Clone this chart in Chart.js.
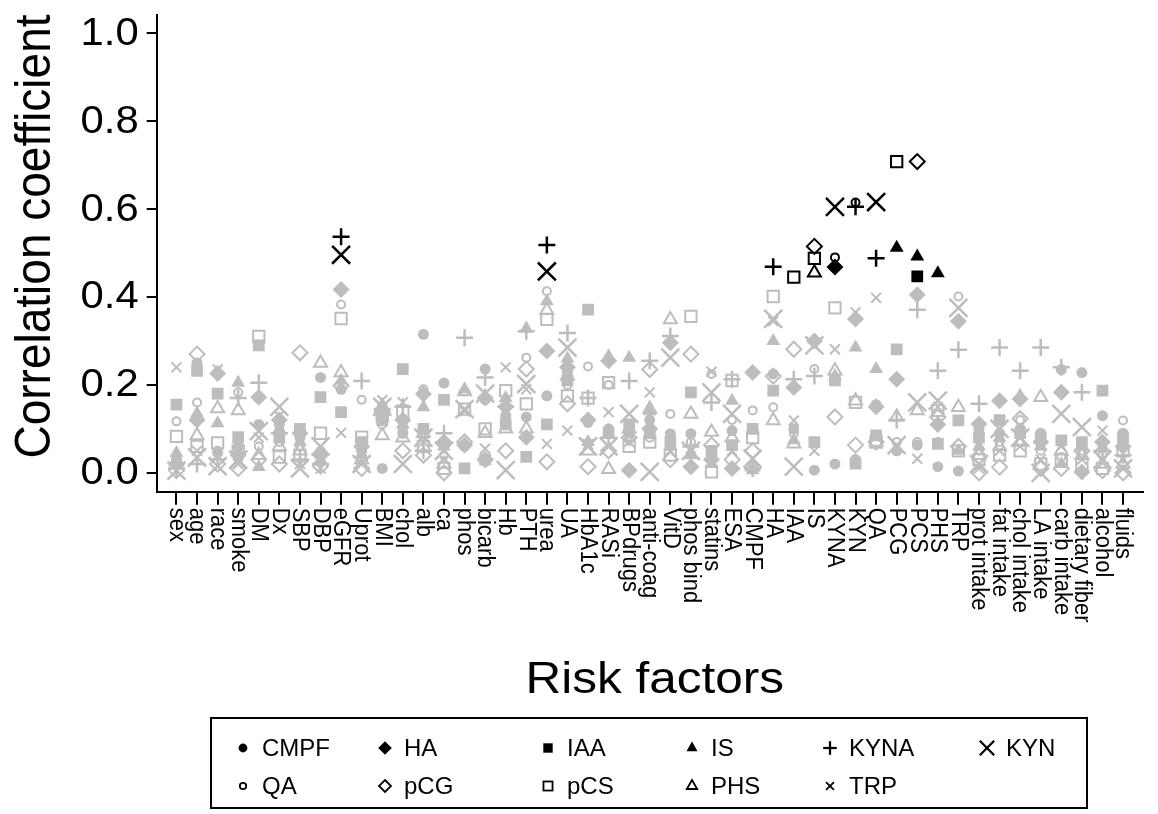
<!DOCTYPE html>
<html>
<head>
<meta charset="utf-8">
<script src="https://cdn.jsdelivr.net/npm/chart.js@4.4.1/dist/chart.umd.min.js"></script>
<style>
  html, body { margin: 0; padding: 0; background: #fff; }
  #wrap { position: relative; width: 1158px; height: 814px; overflow: hidden; }
  #chart { position: absolute; left: 0; top: 0; }
  #legend { position: absolute; left: 210px; top: 717px; width: 878px; height: 92px;
            border: 2px solid #000; box-sizing: border-box; }
  .li { position: absolute; font-family: "Liberation Sans", Arial, sans-serif; font-size: 24px;
        line-height: 24px; color: #000; white-space: nowrap; }
  .lm { position: absolute; }
</style>
</head>
<body>
<div id="wrap">
  <canvas id="chart" width="1158" height="814"></canvas>
  <div id="legend"></div>
</div>
<script>
// ---------------- DATA ----------------
const categories = ['sex','age','race','smoke','DM','Dx','SBP','DBP','eGFR','Uprot','BMI','chol','alb','ca',
  'phos','bicarb','Hb','PTH','urea','UA','HbA1c','RASi','BPdrugs','anti-coag','VitD','phos bind','statins',
  'ESA','CMPF','HA','IAA','IS','KYNA','KYN','QA','PCG','PCS','PHS','TRP','prot intake','fat intake',
  'chol intake','LA intake','carb intake','dietary fiber','alcohol','fluids'];

const yTicks = [0.0, 0.2, 0.4, 0.6, 0.8, 1.0];
const xTitle = 'Risk factors';
const yTitle = 'Correlation coefficient';
const seriesNames = ['CMPF','HA','IAA','IS','KYNA','KYN','QA','pCG','pCS','PHS','TRP'];

const CMPF = [.03,.25,.045,.06,.11,.11,.08,.217,.19,.05,.01,.09,.315,.204,.06,.236,.13,.127,.175,.23,.115,.10,.09,.12,.089,.089,.04,.096,null,.225,.10,.006,.02,.03,.155,.05,.063,.014,.004,.10,.09,.10,.09,.235,.228,.13,.09];
const HA   = [.02,.12,.226,.04,.172,.12,.09,.04,.417,.06,.135,.12,.179,.07,.063,.17,.15,.081,.277,.24,.12,.255,.006,.10,.296,.014,.03,.01,.228,null,.194,.30,.468,.35,.15,.213,.405,.11,.345,.111,.164,.168,.07,.183,.002,.07,.06];
const IAA  = [.155,.232,.18,.081,.29,.08,.10,.172,.138,.07,.12,.236,.10,.166,.01,.03,.11,.036,.11,.21,.371,.09,.11,.09,.07,.183,.05,.063,.10,.187,null,.07,.21,.021,.085,.281,.447,.066,.119,.08,.12,.09,.08,.074,.07,.187,.08];
const IS   = [.045,.135,.113,.205,.013,.10,.07,.03,.21,.04,.155,.11,.149,.06,.19,.175,.17,.328,.39,.26,.07,.265,.262,.14,.06,.04,.02,.164,.006,.30,.074,null,.22,.285,.236,.512,.492,.454,.05,.06,.08,.175,.06,.02,.06,.06,.06];
const KYNA = [.01,.02,.03,.17,.205,.09,.03,.02,.537,.209,.145,.15,.05,.09,.307,.217,.15,.322,.518,.318,.17,.08,.209,.255,.311,.06,.16,.213,.01,.469,.213,.22,null,.605,.488,.12,.371,.232,.28,.157,.285,.232,.285,.24,.183,.05,.04];
const KYN  = [.005,.035,.015,.03,.095,.15,.01,.06,.496,.02,.15,.02,.08,.05,.145,.18,.006,.202,.458,.285,.06,.06,.134,.002,.262,.05,.183,.134,.032,.35,.014,.29,.605,null,.616,.063,.16,.164,.375,.02,.10,.08,.0,.134,.104,.03,.01];
const QA   = [.117,.16,.05,.183,.06,.07,.06,.05,.383,.166,.11,.10,.19,.04,.185,.165,.12,.262,.413,.20,.242,.20,.08,.08,.134,.07,.225,.12,.142,.149,.09,.236,.49,.615,null,.07,.07,.07,.401,.05,.07,.12,.05,.036,.05,.04,.119];
const pCG  = [.005,.27,.02,.01,.03,.02,.273,.015,.198,.01,.14,.05,.04,.0,.07,.03,.05,.236,.025,.157,.014,.05,.08,.235,.03,.27,.063,.03,.05,.22,.281,.515,.127,.063,.07,null,.708,.127,.06,.0,.013,.123,.01,.01,.05,.005,.0];
const pCS  = [.083,.06,.068,.05,.31,.036,.04,.09,.351,.081,.13,.14,.06,.01,.145,.10,.187,.157,.349,.175,.17,.205,.06,.07,.04,.356,.002,.21,.08,.401,.445,.488,.375,.16,.07,.708,null,.142,.05,.03,.04,.05,.02,.03,.02,.01,.05];
const PHS  = [.025,.085,.146,.142,.04,.06,.05,.25,.228,.03,.085,.08,.09,.02,.185,.09,.10,.10,.37,.22,.05,.008,.10,.145,.349,.134,.093,.08,.014,.119,.066,.455,.232,.164,.07,.127,.142,null,.149,.04,.06,.07,.172,.05,.04,.02,.02];
const TRP  = [.24,.05,.235,.02,.08,.13,.02,.01,.091,.03,.165,.16,.07,.03,.14,.055,.24,.19,.066,.096,.065,.138,.07,.183,.05,.055,.23,.05,.01,.345,.119,.05,.281,.365,.398,.06,.032,.15,null,.01,.05,.06,.03,.06,.03,.096,.03];

// indices of significant (black) points per series
const sigCMPF = [];
const sigHA   = [32];
const sigIAA  = [36];
const sigIS   = [35, 36, 37];
const sigKYNA = [8, 18, 29, 33, 34];
const sigKYN  = [8, 18, 32, 34];
const sigQA   = [32, 33];
const sigpCG  = [31, 36];
const sigpCS  = [30, 31, 35];
const sigPHS  = [31];
const sigTRP  = [];

// ---------------- STYLE ----------------
const GRAY = '#bdbdbd';
const BLACK = '#000000';
const FONT = '"Liberation Sans", Arial, Helvetica, sans-serif';
const XSTRETCH = 1.1;

const seriesValues = [CMPF, HA, IAA, IS, KYNA, KYN, QA, pCG, pCS, PHS, TRP];
const seriesSig = [sigCMPF, sigHA, sigIAA, sigIS, sigKYNA, sigKYN, sigQA, sigpCG, sigpCS, sigPHS, sigTRP];
// marker styles: [pointStyle, radius, filled, borderWidth]
const markerStyles = [
  ['circle', 5.5, true, 0],
  ['rectRot', 8.5, true, 0],
  ['rect', 8.3, true, 0],
  ['triangle', 8, true, 0],
  ['cross', 8.5, false, 2.5],
  ['crossRot', 12.7, false, 2.5],
  ['circle', 4, false, 2],
  ['rectRot', 7.5, false, 2],
  ['rect', 8, false, 2],
  ['triangle', 7.5, false, 2],
  ['crossRot', 7, false, 2]
];

const datasets = seriesNames.map((name, s) => {
  const vals = seriesValues[s];
  const sig = seriesSig[s];
  const [ps, r, filled, bw] = markerStyles[s];
  const pts = [];
  vals.forEach((v, i) => { if (v !== null) pts.push({ x: i, y: v, sig: sig.includes(i) }); });
  const col = ctx => (ctx.raw && ctx.raw.sig) ? BLACK : GRAY;
  return {
    label: name,
    data: pts,
    pointStyle: ps,
    pointRadius: r,
    pointHoverRadius: r,
    pointBorderWidth: filled ? 0.01 : bw,
    pointBackgroundColor: filled ? col : 'rgba(0,0,0,0)',
    pointBorderColor: col,
    showLine: false,
    order: -s
  };
});

const textPlugin = {
  id: 'textPlugin',
  afterDraw(chart) {
    const { ctx } = chart;
    const x = chart.scales.x;
    const y = chart.scales.y;
    ctx.save();
    ctx.fillStyle = '#000';
    // category tick labels, rotated clockwise
    ctx.font = '22px ' + FONT;
    ctx.textAlign = 'left';
    ctx.textBaseline = 'middle';
    categories.forEach((c, i) => {
      const px = x.getPixelForValue(i);
      ctx.save();
      ctx.translate(px, x.top + 16);
      ctx.scale(XSTRETCH, 1);
      ctx.rotate(Math.PI / 2);
      ctx.fillText(c, 0, 0);
      ctx.restore();
    });
    // y tick labels
    ctx.font = '38px ' + FONT;
    ctx.textAlign = 'right';
    ctx.textBaseline = 'middle';
    yTicks.forEach(v => {
      const py = y.getPixelForValue(v);
      ctx.save();
      ctx.translate(y.right - 18, py + 1);
      ctx.scale(XSTRETCH, 1);
      ctx.fillText(v.toFixed(1), 0, 0);
      ctx.restore();
    });
    // axis titles
    ctx.font = '45px ' + FONT;
    ctx.textAlign = 'center';
    ctx.textBaseline = 'alphabetic';
    ctx.save();
    ctx.translate((x.left + x.right) / 2 + 5, 693);
    ctx.scale(XSTRETCH, 1);
    ctx.fillText(xTitle, 0, 0);
    ctx.restore();
    ctx.font = '46px ' + FONT;
    ctx.save();
    ctx.translate(50, 236.5);
    ctx.scale(XSTRETCH, 1);
    ctx.rotate(-Math.PI / 2);
    ctx.fillText(yTitle, 0, 0);
    ctx.restore();
    ctx.restore();
  }
};

new Chart(document.getElementById('chart'), {
  type: 'scatter',
  data: { datasets },
  plugins: [textPlugin],
  options: {
    responsive: false,
    animation: false,
    events: [],
    devicePixelRatio: 1,
    layout: { padding: { left: 0, top: 11.7, right: 3.5, bottom: 814 - 491.7 - 30 } },
    plugins: { legend: { display: false }, tooltip: { enabled: false } },
    scales: {
      x: {
        type: 'linear',
        min: -0.96,
        max: 46.96,
        afterBuildTicks: s => { s.ticks = categories.map((_, i) => ({ value: i })); },
        afterFit: s => { s.height = 30; s.paddingLeft = 0; s.paddingRight = 0; },
        ticks: { display: false },
        grid: { drawOnChartArea: false, drawTicks: true, tickLength: 13, color: BLACK, lineWidth: 2 },
        border: { display: true, color: BLACK, width: 2 }
      },
      y: {
        type: 'linear',
        min: -0.043,
        max: 1.041,
        afterBuildTicks: s => { s.ticks = yTicks.map(v => ({ value: v })); },
        afterFit: s => { s.width = 156.7; s.paddingTop = 0; s.paddingBottom = 0; },
        ticks: { display: false },
        grid: { drawOnChartArea: false, drawTicks: true, tickLength: 10, color: BLACK, lineWidth: 2 },
        border: { display: true, color: BLACK, width: 2 }
      }
    }
  }
});

// ---------------- LEGEND (HTML) ----------------
const legendCols = [243, 385, 548, 692, 830, 987];
const legendRows = [748, 786];
function markerSVG(s) {
  const [ps, r0, filled, bw0] = markerStyles[s];
  const r = r0 * 0.8, bw = Math.max(bw0 * 0.9, 0), c = 12;
  const fill = filled ? '#000' : 'none';
  const stroke = '#000';
  const sw = filled ? 0 : bw;
  let shape = '';
  if (ps === 'circle') shape = `<circle cx="${c}" cy="${c}" r="${r}" fill="${fill}" stroke="${stroke}" stroke-width="${sw}"/>`;
  else if (ps === 'rectRot') shape = `<polygon points="${c},${c-r} ${c+r},${c} ${c},${c+r} ${c-r},${c}" fill="${fill}" stroke="${stroke}" stroke-width="${sw}"/>`;
  else if (ps === 'rect') { const h = r * Math.SQRT1_2; shape = `<rect x="${c-h}" y="${c-h}" width="${2*h}" height="${2*h}" fill="${fill}" stroke="${stroke}" stroke-width="${sw}"/>`; }
  else if (ps === 'triangle') { const pts = [0, 1, 2].map(k => { const a = k * 2 * Math.PI / 3; return `${c + Math.sin(a) * r},${c - Math.cos(a) * r}`; }).join(' '); shape = `<polygon points="${pts}" fill="${fill}" stroke="${stroke}" stroke-width="${sw}"/>`; }
  else if (ps === 'cross') shape = `<line x1="${c-r}" y1="${c}" x2="${c+r}" y2="${c}" stroke="${stroke}" stroke-width="${bw}"/><line x1="${c}" y1="${c-r}" x2="${c}" y2="${c+r}" stroke="${stroke}" stroke-width="${bw}"/>`;
  else if (ps === 'crossRot') { const d = r * Math.SQRT1_2; shape = `<line x1="${c-d}" y1="${c-d}" x2="${c+d}" y2="${c+d}" stroke="${stroke}" stroke-width="${bw}"/><line x1="${c-d}" y1="${c+d}" x2="${c+d}" y2="${c-d}" stroke="${stroke}" stroke-width="${bw}"/>`; }
  return `<svg width="24" height="24" viewBox="0 0 24 24">${shape}</svg>`;
}
const legendEl = document.getElementById('legend');
const LX = 210, LY = 717;
seriesNames.forEach((name, s) => {
  const col = s % 6, row = Math.floor(s / 6);
  const mx = legendCols[col], my = legendRows[row];
  const m = document.createElement('div');
  m.className = 'lm';
  m.style.left = (mx - 12 - LX - 2) + 'px';
  m.style.top = (my - 12 - LY - 2) + 'px';
  m.innerHTML = markerSVG(s);
  legendEl.appendChild(m);
  const t = document.createElement('div');
  t.className = 'li';
  t.textContent = name;
  t.style.left = (mx + 19 - LX - 2) + 'px';
  t.style.top = (my - 12 - LY - 2) + 'px';
  legendEl.appendChild(t);
});
</script>
</body>
</html>
